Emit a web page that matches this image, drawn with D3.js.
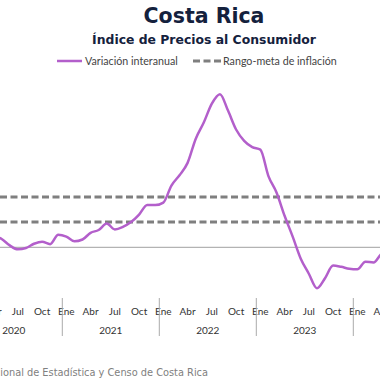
<!DOCTYPE html>
<html>
<head>
<meta charset="utf-8">
<script src="https://cdn.jsdelivr.net/npm/d3@7"></script>
<style>
html,body{margin:0;padding:0;background:#fff;overflow:hidden;}
svg{display:block;font-family:Lato,"DejaVu Sans",sans-serif;}
</style>
</head>
<body>
<svg id="chart" width="380" height="380"></svg>
<script>
const title = "Costa Rica";
const subtitle = "Índice de Precios al Consumidor";
const seriesNames = ["Variación interanual", "Rango-meta de inflación"];
const source = "Fuente: Instituto Nacional de Estadística y Censo de Costa Rica";
const months = ["Ene","Feb","Mar","Abr","May","Jun","Jul","Ago","Sep","Oct","Nov","Dic"];
const years = ["2020","2021","2022","2023","2024"];
const tickMonths = ["Ene","Abr","Jul","Oct"];
const inflation = [
  1.55, 1.60, 1.45, 0.95, 0.66, 0.15, -0.16, -0.06, 0.28, 0.45, 0.25, 1.00,
  0.85, 0.48, 0.62, 1.15, 1.37, 1.88, 1.42, 1.62, 2.00, 2.60, 3.36, 3.35,
  3.55, 4.90, 5.72, 6.70, 8.60, 9.90, 11.40, 12.15, 10.85, 9.35, 8.45, 7.95,
  7.75, 5.65, 4.35, 2.50, 0.85, -0.90, -2.10, -3.25, -2.45, -1.45, -1.55, -1.70,
  -1.75, -1.15, -1.20, -0.50, -0.20
];
const targetRange = [2, 4];

const svg = d3.select("#chart");
const W = 380;

const keys = [];
years.forEach(y => months.forEach(m => keys.push(y + "-" + m)));
const step = 97 / 12;
const x0 = 62.3 - 97;
const x = d3.scaleBand().domain(keys).range([x0, x0 + keys.length * step]).padding(0);
const cx = k => x(k) + x.bandwidth() / 2;
const y = d3.scaleLinear().domain([-4, 13]).range([297.7, 83.5]);

// title
svg.append("text").attr("x", 204).attr("y", 23).attr("text-anchor", "middle")
  .attr("font-family", "'DejaVu Sans', sans-serif")
  .attr("font-size", 20.5).attr("font-weight", 700).attr("fill", "#14213d").text(title);
svg.append("text").attr("x", 204).attr("y", 44).attr("text-anchor", "middle")
  .attr("font-family", "'DejaVu Sans', sans-serif")
  .attr("font-size", 12.4).attr("font-weight", 700).attr("fill", "#14213d").text(subtitle);

// legend
const lg = svg.append("g");
lg.append("line").attr("x1", 57).attr("x2", 82).attr("y1", 61).attr("y2", 61)
  .attr("stroke", "#b35fcb").attr("stroke-width", 2.5);
lg.append("text").attr("x", 85).attr("y", 64.5).attr("font-size", 10.7).attr("fill", "#444").text(seriesNames[0]);
lg.append("line").attr("x1", 193).attr("x2", 221).attr("y1", 61).attr("y2", 61)
  .attr("stroke", "#7f7f7f").attr("stroke-width", 3).attr("stroke-dasharray", "7,3.5");
lg.append("text").attr("x", 223).attr("y", 64.5).attr("font-size", 10.7).attr("fill", "#444").text(seriesNames[1]);

// zero line
svg.append("line").attr("x1", 0).attr("x2", W).attr("y1", y(0)).attr("y2", y(0))
  .attr("stroke", "#a0a0a0").attr("stroke-width", 1);

// target range
svg.selectAll("line.target").data(targetRange).join("line").attr("class", "target")
  .attr("x1", 0).attr("x2", W).attr("y1", d => y(d)).attr("y2", d => y(d))
  .attr("stroke", "#7f7f7f").attr("stroke-width", 3).attr("stroke-dasharray", "7,3.5");

// series line
const pts = inflation.map((v, i) => [cx(keys[i]), y(v)]);
svg.append("path").attr("d", d3.line().curve(d3.curveMonotoneX)(pts))
  .attr("fill", "none").attr("stroke", "#b35fcb").attr("stroke-width", 2.5)
  .attr("stroke-linejoin", "round");

// x axis labels
const ax = svg.append("g").attr("font-size", 10).attr("fill", "#333");
keys.filter(k => tickMonths.includes(k.split("-")[1])).forEach(k => {
  ax.append("text").attr("x", cx(k)).attr("y", 315).attr("text-anchor", "middle").text(k.split("-")[1]);
});
years.forEach(yr => {
  const s = x(yr + "-Ene");
  ax.append("line").attr("x1", s).attr("x2", s).attr("y1", 298).attr("y2", 336)
    .attr("stroke", "#aaa").attr("stroke-width", 1);
  ax.append("text").attr("x", s + 48.5).attr("y", 334).attr("text-anchor", "middle").text(yr);
});

// source
svg.append("text").attr("x", 208).attr("y", 376).attr("text-anchor", "end")
  .attr("font-family", "'DejaVu Sans', sans-serif")
  .attr("font-size", 9.8).attr("fill", "#808080").text(source);
</script>
</body>
</html>
